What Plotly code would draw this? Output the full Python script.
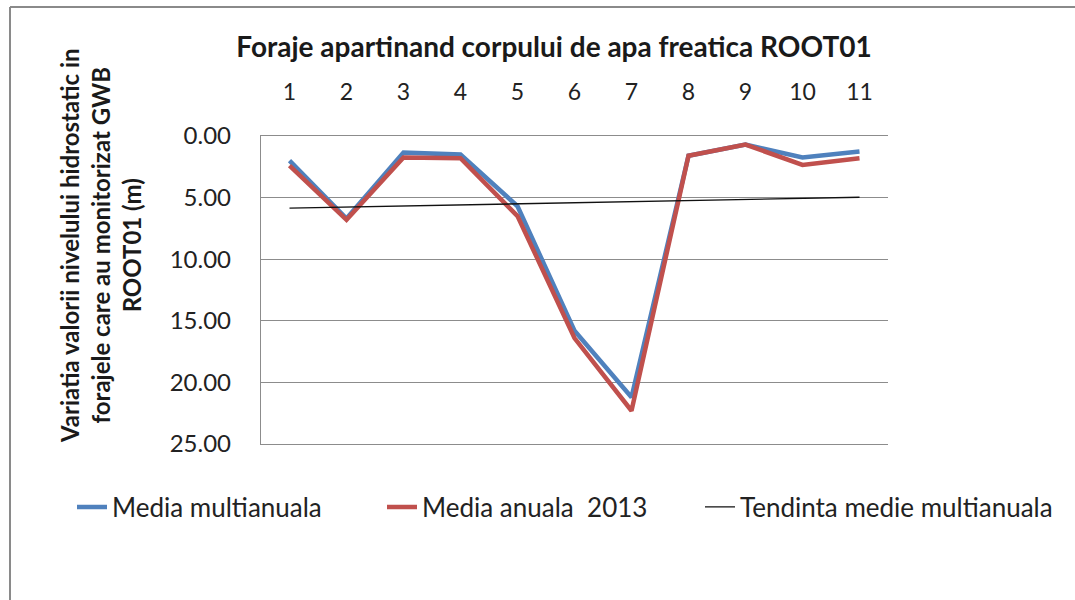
import numpy as np
import plotly.graph_objects as go

# Boreholes of groundwater body ROOT01
foraje = [1, 2, 3, 4, 5, 6, 7, 8, 9, 10, 11]
media_multianuala = [2.0, 6.7, 1.35, 1.5, 5.7, 15.8, 21.2, 1.6, 0.7, 1.75, 1.26]
media_anuala_2013 = [2.4, 6.8, 1.75, 1.8, 6.5, 16.4, 22.3, 1.6, 0.7, 2.35, 1.8]
y_ticks = [0, 5, 10, 15, 20, 25]

# linear trend of the multi-annual mean
coef = np.polyfit(foraje, media_multianuala, 1)
tendinta = list(np.polyval(coef, foraje))

W, H = 1075, 600
L, R, T, B = 261, 888, 136, 444   # plot area in pixels


def px(xp):
    return (xp - L) / (R - L)


def py(yp):
    return (B - yp) / (B - T)


BLUE = "#4F81BD"
RED = "#C0504D"
GRID = "#8c8c8c"
FONT = "Lato, Carlito, sans-serif"
LEG_FONT = dict(size=26, family=FONT, color="#222222")

fig = go.Figure()
fig.add_trace(go.Scatter(x=foraje, y=media_multianuala, mode="lines",
                         name="Media multianuala", legend="legend",
                         line=dict(color=BLUE, width=4.5)))
fig.add_trace(go.Scatter(x=foraje, y=media_anuala_2013, mode="lines",
                         name="Media anuala  2013", legend="legend2",
                         line=dict(color=RED, width=4.5)))
fig.add_trace(go.Scatter(x=foraje, y=tendinta, mode="lines",
                         name="Tendinta medie multianuala", legend="legend3",
                         line=dict(color="#111111", width=1.4)))


def legend_at(xpix):
    return dict(orientation="h", xref="container", yref="container",
                x=xpix / W, y=1 - 507 / H, xanchor="left", yanchor="middle",
                font=LEG_FONT, bgcolor="rgba(0,0,0,0)", borderwidth=0)


fig.update_layout(
    width=W, height=H,
    margin=dict(l=L, r=W - R, t=T, b=H - B, pad=0, autoexpand=False),
    paper_bgcolor="white", plot_bgcolor="white",
    font=dict(family=FONT, color="#222222"),
    title=dict(text="<b>Foraje apartinand corpului de apa freatica ROOT01</b>",
               xref="container", yref="container",
               x=554 / W, y=1 - 47 / H, xanchor="center", yanchor="middle",
               font=dict(size=28, family=FONT, color="#1a1a1a")),
    showlegend=True,
    legend=legend_at(72),
    legend2=legend_at(382),
    legend3=legend_at(700),
    xaxis=dict(side="top", range=[0.5, 11.5], tickmode="array",
               tickvals=foraje, ticktext=[str(f) for f in foraje],
               showgrid=False, zeroline=False,
               showline=True, mirror=True, linecolor=GRID, linewidth=1.3,
               ticks="", ticklabelstandoff=26,
               tickfont=dict(size=23, family=FONT, color="#222222"),
               fixedrange=True),
    yaxis=dict(range=[25, 0], tickmode="array", tickvals=y_ticks,
               tickformat=".2f", showgrid=True, gridcolor=GRID, gridwidth=1.3,
               zeroline=False, showline=True, linecolor=GRID, linewidth=1.3,
               ticks="", ticklabelstandoff=24,
               tickfont=dict(size=24, family=FONT, color="#222222"),
               fixedrange=True),
)

# vertical axis title
fig.add_annotation(
    text="<b>Variatia valorii nivelului hidrostatic in<br>"
         "forajele care au monitorizat GWB<br>ROOT01 (m)</b>",
    xref="paper", yref="paper", x=px(100), y=py(245),
    xanchor="center", yanchor="middle", textangle=-90, showarrow=False,
    font=dict(size=24, family=FONT, color="#1a1a1a"), align="center")

# chart area frame (left and top edges)
fig.add_shape(type="line", xref="paper", yref="paper",
              x0=px(10), x1=px(10), y0=py(7), y1=py(620),
              line=dict(color="#8a8a8a", width=2))
fig.add_shape(type="line", xref="paper", yref="paper",
              x0=px(10), x1=px(1080), y0=py(7), y1=py(7),
              line=dict(color="#8a8a8a", width=2))

fig.write_html("out.html")
